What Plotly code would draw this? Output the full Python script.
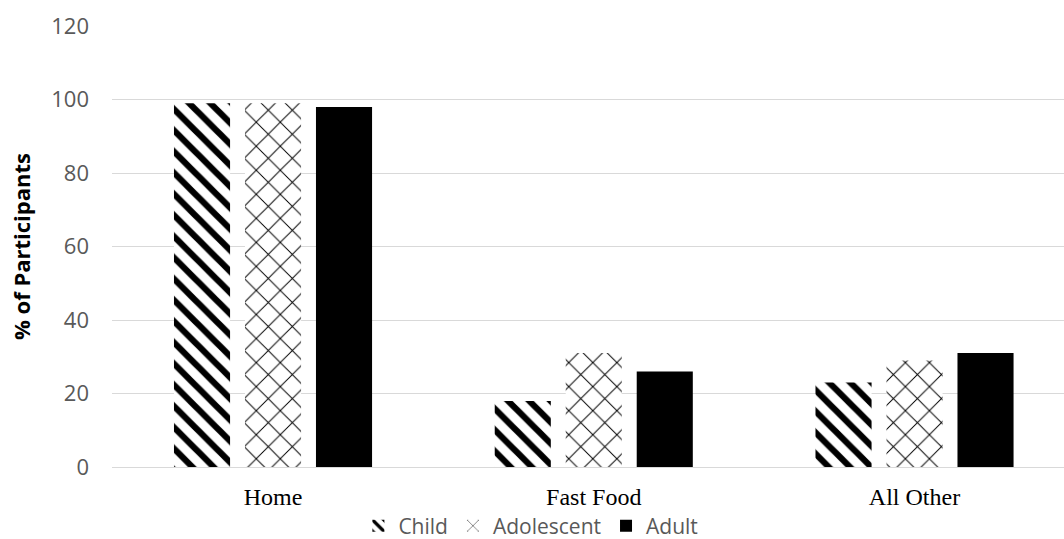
import plotly.graph_objects as go

categories = ["Home", "Fast Food", "All Other"]
child = [99, 18, 23]
adolescent = [99, 31, 29]
adult = [98, 26, 31]
y_ticks = [0, 20, 40, 60, 80, 100, 120]

sans = "Open Sans, Liberation Sans, sans-serif"
serif = "Liberation Serif, Times New Roman, serif"

fig = go.Figure()
fig.add_trace(go.Bar(
    name="Child", x=categories, y=child,
    marker=dict(color="white", line=dict(width=0),
                pattern=dict(shape="\\", fgcolor="black", bgcolor="white",
                             size=15, solidity=0.42, fillmode="replace")),
))
fig.add_trace(go.Bar(
    name="Adolescent", x=categories, y=adolescent,
    marker=dict(color="white", line=dict(width=0),
                pattern=dict(shape="x", fgcolor="black", bgcolor="white",
                             size=17, solidity=0.11, fillmode="replace")),
))
fig.add_trace(go.Bar(
    name="Adult", x=categories, y=adult,
    marker=dict(color="black", line=dict(width=0)),
))

fig.update_layout(
    width=1064, height=539,
    margin=dict(l=112, r=0, t=26, b=72, autoexpand=False),
    paper_bgcolor="white", plot_bgcolor="white",
    barmode="group", bargap=0.336, bargroupgap=0.21,
    showlegend=True,
    legend=dict(orientation="h", x=0.44, xanchor="center", y=-0.134, yanchor="middle",
                font=dict(family=sans, size=21, color="#595959"),
                itemwidth=30, traceorder="normal"),
    xaxis=dict(showgrid=False, showline=True, linecolor="#d9d9d9", linewidth=1,
               range=[-0.502, 2.466], ticks="", ticklabelstandoff=8,
               tickfont=dict(family=serif, size=24, color="black")),
    yaxis=dict(range=[0, 120.05], tickvals=y_ticks, showgrid=True, gridcolor="#d9d9d9",
               gridwidth=1, zeroline=False, ticks="", ticklabelstandoff=22,
               tickfont=dict(family=sans, size=22, color="#595959"),
               title=dict(text="<b>% of Participants</b>",
                          font=dict(family=sans, size=22, color="black"),
                          standoff=14)),
)

fig.write_html("out.html")
